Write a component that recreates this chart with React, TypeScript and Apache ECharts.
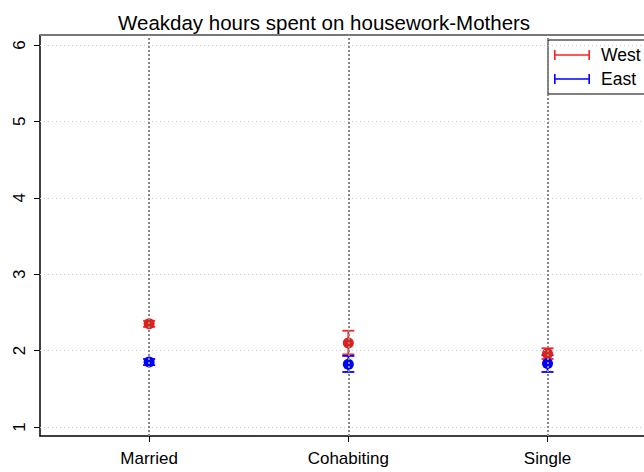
import React, { useEffect, useRef } from "react";
import * as echarts from "echarts";

const categories = ["Married", "Cohabiting", "Single"];
const categoryPos = [1, 2, 3];
const yTicks = [1, 2, 3, 4, 5, 6];
const westMean = [2.35, 2.1, 1.96];
const westLow = [2.31, 1.95, 1.89];
const westHigh = [2.39, 2.26, 2.03];
const eastMean = [1.85, 1.82, 1.83];
const eastLow = [1.81, 1.72, 1.72];
const eastHigh = [1.89, 1.93, 1.94];

const RED = "#e0201b";
const RED_LINE = "#ff2020";
const BLUE = "#0000ff";

function errorSeries(name: string, low: number[], high: number[], color: string) {
  return {
    type: "custom",
    name,
    z: 3,
    data: categoryPos.map((x, i) => [x, low[i], high[i]]),
    renderItem: (params: any, api: any) => {
      const x = api.value(0);
      const lo = api.coord([x, api.value(1)]);
      const hi = api.coord([x, api.value(2)]);
      const cap = 6;
      const style = { stroke: color, lineWidth: 1.8 };
      return {
        type: "group",
        children: [
          { type: "line", shape: { x1: lo[0], y1: lo[1], x2: hi[0], y2: hi[1] }, style },
          { type: "line", shape: { x1: lo[0] - cap, y1: lo[1], x2: lo[0] + cap, y2: lo[1] }, style },
          { type: "line", shape: { x1: hi[0] - cap, y1: hi[1], x2: hi[0] + cap, y2: hi[1] }, style },
        ],
      };
    },
  };
}

export default function App() {
  const ref = useRef<HTMLDivElement>(null);
  useEffect(() => {
    if (!ref.current) return;
    const chart = echarts.init(ref.current, null, { renderer: "svg" });
    const font = "'Liberation Sans', Arial, sans-serif";
    const legendIcon = "path://M0,4.2h36v1.6h-36z M0,0h1.6v10h-1.6z M34.4,0h1.6v10h-1.6z";
    chart.setOption({
      animation: false,
      backgroundColor: "#ffffff",
      textStyle: { fontFamily: font },
      title: {
        text: "Weakday hours spent on housework-Mothers",
        left: 113,
        top: 7,
        textStyle: { fontSize: 20.5, fontWeight: "normal", color: "#000", fontFamily: font },
      },
      legend: {
        orient: "vertical",
        left: 548,
        top: 40,
        padding: [6, 30, 6, 6],
        itemGap: 6,
        itemWidth: 36,
        itemHeight: 10,
        borderColor: "#000",
        borderWidth: 1,
        backgroundColor: "#fff",
        textStyle: { fontSize: 17.5, color: "#000", fontFamily: font, padding: [0, 0, 0, 6] },
        data: [
          { name: "West", icon: legendIcon, itemStyle: { color: RED_LINE } },
          { name: "East", icon: legendIcon, itemStyle: { color: BLUE } },
        ],
      },
      grid: { left: 40, top: 35, width: 627, bottom: 36, outerBoundsMode: "none", containLabel: false },
      xAxis: {
        type: "value",
        min: 0.452,
        max: 3.6,
        axisLine: { show: true, onZero: false, lineStyle: { color: "#000", width: 1.5 } },
        axisTick: { show: true, customValues: categoryPos, length: 6, lineStyle: { color: "#000", width: 1 } },
        axisLabel: {
          customValues: categoryPos,
          formatter: (v: number) => categories[categoryPos.indexOf(Math.round(v))] ?? "",
          fontSize: 17,
          color: "#000",
          margin: 14,
          fontFamily: font,
        },
        splitLine: { show: false },
      },
      yAxis: {
        type: "value",
        min: 0.882,
        max: 6.13,
        axisLine: { show: true, lineStyle: { color: "#000", width: 1.5 } },
        axisTick: { show: true, customValues: yTicks, length: 6, lineStyle: { color: "#000", width: 1 } },
        axisLabel: {
          customValues: yTicks,
          rotate: 90,
          fontSize: 17,
          color: "#000",
          margin: 12,
          fontFamily: font,
        },
        splitLine: { show: false },
      },
      graphic: [
        { type: "line", shape: { x1: 40, y1: 35, x2: 644, y2: 35 }, style: { stroke: "#777", lineWidth: 2 }, z: 1 },
      ],
      series: [
        {
          type: "line",
          name: "grid",
          data: [],
          silent: true,
          markLine: {
            silent: true,
            symbol: "none",
            label: { show: false },
            data: yTicks.map((v) => ({ yAxis: v, lineStyle: { color: "#c8c8c8", type: [1, 3], width: 1 } })).concat(
              categoryPos.map((v) => ({ xAxis: v, lineStyle: { color: "#888", type: [2, 2], width: 2 } })) as any
            ),
          },
        },
        errorSeries("West", westLow, westHigh, RED_LINE),
        errorSeries("East", eastLow, eastHigh, BLUE),
        {
          type: "scatter",
          name: "WestPts",
          symbol: "circle",
          symbolSize: 11,
          itemStyle: { color: RED, opacity: 1 },
          z: 4,
          data: categoryPos.map((x, i) => [x, westMean[i]]),
        },
        {
          type: "scatter",
          name: "EastPts",
          symbol: "circle",
          symbolSize: 11,
          itemStyle: { color: BLUE, opacity: 1 },
          z: 4,
          data: categoryPos.map((x, i) => [x, eastMean[i]]),
        },
      ],
    });
    return () => chart.dispose();
  }, []);
  return <div ref={ref} style={{ width: 644, height: 472, position: "absolute", left: 0, top: 0 }} />;
}
